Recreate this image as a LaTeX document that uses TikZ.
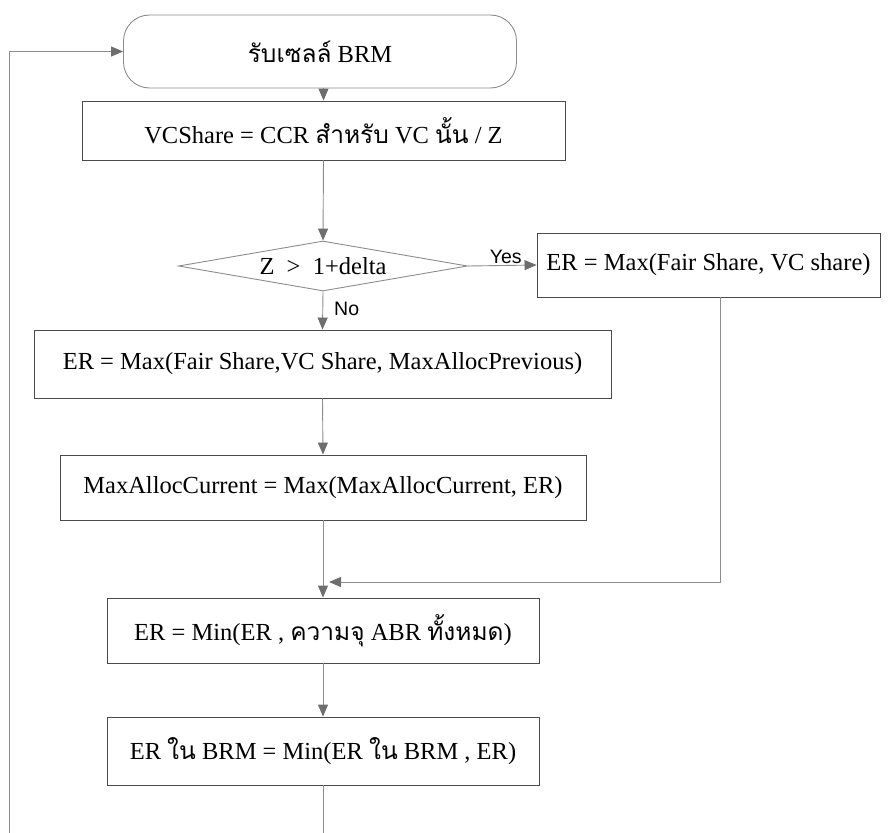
\documentclass[tikz,border=0pt]{standalone}
\usepackage{fontspec}
\setmainfont{Liberation Serif}
\newfontfamily\thaifont[Script=Thai]{Loma}
\newfontfamily\tagfont{Liberation Sans}
\newcommand\thaitxt[1]{{\thaifont #1}}
\usetikzlibrary{shapes.geometric,arrows.meta}

\definecolor{edgegray}{HTML}{4A4A4A}
\definecolor{tipgray}{HTML}{6E6E6E}
\definecolor{softgray}{HTML}{8C8C8C}

\tikzset{
  procbox/.style={draw=edgegray, line width=0.9pt, rectangle, inner sep=0pt,
                  font=\fontsize{24.5}{28}\selectfont},
  termbox/.style={draw=softgray, line width=0.9pt, rectangle, rounded corners=26pt,
                  inner sep=0pt, font=\fontsize{24.5}{28}\selectfont},
  testbox/.style={draw=softgray, line width=0.9pt, diamond, aspect=5.8, inner sep=0pt,
                  font=\fontsize{24.5}{28}\selectfont},
  flow/.style={draw=softgray, line width=0.9pt,
               -{Triangle[length=12pt,width=10pt,fill=tipgray,color=tipgray]}},
  plain/.style={draw=softgray, line width=0.9pt},
  branch/.style={font=\tagfont\fontsize{19.5}{22}\selectfont, inner sep=1pt}
}

\begin{document}
\begin{tikzpicture}[x=1pt,y=-1pt]
  \useasboundingbox (0,0) rectangle (892,833);

  % flow steps
  \node[termbox, minimum width=393pt, minimum height=73pt] (recv) at (320,51.5)
       {\thaitxt{รับเซลล์} BRM};
  \node[procbox, minimum width=483pt, minimum height=59pt] (vcs) at (323.5,130.5)
       {VCShare = CCR \thaitxt{สำหรับ} VC \thaitxt{นั้น} / Z};
  \node[testbox, minimum width=289pt, minimum height=50pt] (test) at (323,266)
       {Z\ \ >\ \ 1+delta};
  \node[procbox, minimum width=343pt, minimum height=64pt] (eryes) at (708.5,265)
       {ER = Max(Fair Share, VC share)};
  \node[procbox, minimum width=577pt, minimum height=68pt] (erno) at (322.5,364)
       {ER = Max(Fair Share,VC Share, MaxAllocPrevious)};
  \node[procbox, minimum width=526pt, minimum height=65pt] (maxcur) at (323,487.5)
       {MaxAllocCurrent = Max(MaxAllocCurrent, ER)};
  \node[procbox, minimum width=432pt, minimum height=65pt] (ermin) at (323,630.5)
       {ER = Min(ER , \thaitxt{ความจุ} ABR \thaitxt{ทั้งหมด})};
  \node[procbox, minimum width=432pt, minimum height=68pt] (erbrm) at (323,751)
       {ER \thaitxt{ใน} BRM = Min(ER \thaitxt{ใน} BRM , ER)};

  % loose ends of the loop at the bottom edge
  \coordinate (merge) at (323,582);
  \coordinate (downend) at (323,833);
  \coordinate (loopend) at (9,833);

  % connectors
  \draw[flow] (vcs.north |- recv.south) -- (vcs.north);
  \draw[flow] (vcs.south) -- (test.north);
  \draw[flow] (test.east) -- node[branch, pos=0.55, above] {Yes} (eryes.west);
  \draw[flow] (test.south) -- node[branch, pos=0.45, right, xshift=10pt] {No} (erno.north);
  \draw[flow] (erno.south) -- (maxcur.north);
  \draw[flow] (maxcur.south) -- (ermin.north);
  \draw[flow] ([xshift=12pt]eryes.south) |- ([xshift=6pt]merge);
  \draw[flow] (ermin.south) -- (erbrm.north);
  \draw[plain] (erbrm.south) -- (downend);
  \draw[flow] (loopend) |- (recv.west);
\end{tikzpicture}
\end{document}
